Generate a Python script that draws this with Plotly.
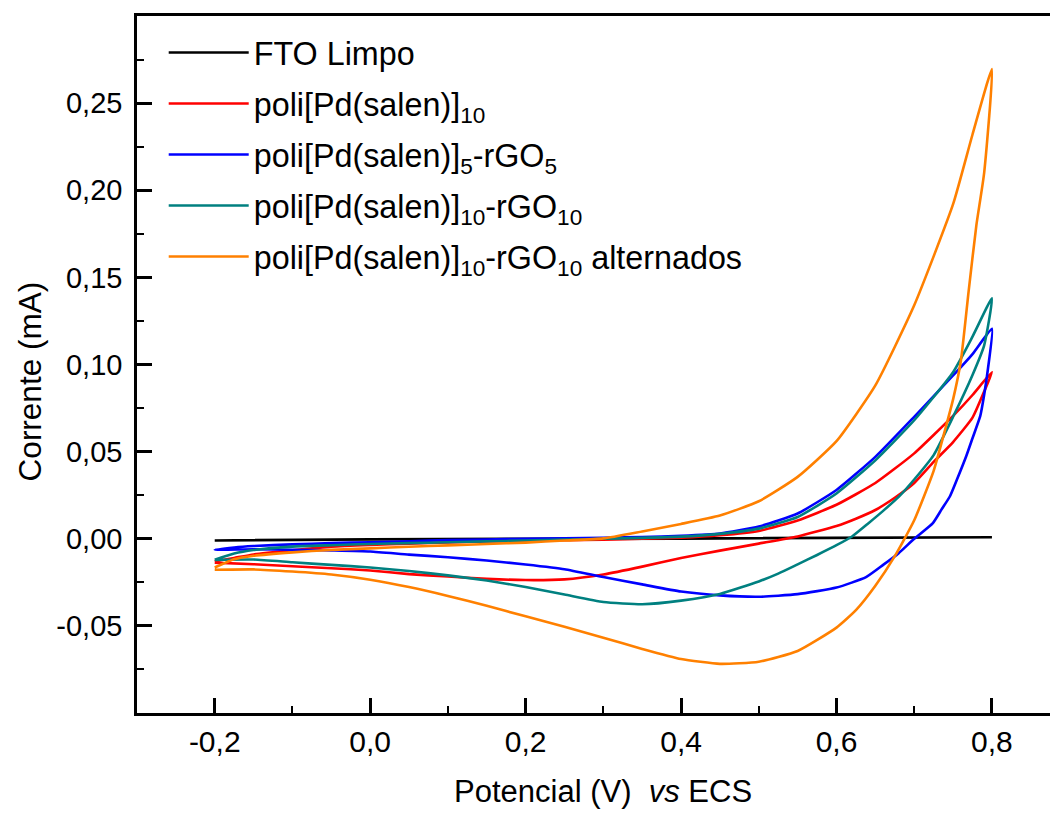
import plotly.graph_objects as go

# ---------------- data ----------------
# FTO Limpo (forward then reverse)
fto_v = [-0.2, 0.0, 0.4, 0.8, 0.4, 0.0, -0.2]
fto_i = [-0.0010, -0.0003, 0.0002, 0.0009, 0.0001, -0.0004, -0.0010]

# poli[Pd(salen)]10
red_v = [-0.2, -0.175, -0.15, -0.1, -0.05, 0.0, 0.05, 0.1, 0.15, 0.2, 0.25, 0.3, 0.35, 0.4, 0.45, 0.5, 0.55, 0.6, 0.65, 0.7, 0.75, 0.775, 0.8,
         0.79, 0.775, 0.75, 0.725, 0.7, 0.675, 0.65, 0.625, 0.6, 0.55, 0.5, 0.45, 0.4, 0.35, 0.3, 0.25, 0.2, 0.15, 0.1, 0.05, 0.0,
         -0.05, -0.1, -0.15, -0.2]
red_i = [-0.013, -0.011, -0.009, -0.0066, -0.0045, -0.0035, -0.0028, -0.0021, -0.0016, -0.0012, -0.0008, -0.0005, 0.0, 0.0006, 0.002, 0.0045, 0.0105, 0.0195, 0.032, 0.049, 0.0705, 0.0825, 0.0956,
         0.0845, 0.0695, 0.0555, 0.0441, 0.032, 0.0235, 0.0165, 0.0115, 0.0073, 0.0013, -0.0028, -0.0068, -0.011, -0.016, -0.0205, -0.0233, -0.0237, -0.0230, -0.0217, -0.0203, -0.0182,
         -0.0169, -0.0158, -0.0146, -0.0137]

# poli[Pd(salen)]5-rGO5
blue_v = [-0.2, -0.175, -0.15, -0.1, -0.05, 0.0, 0.05, 0.1, 0.15, 0.2, 0.25, 0.3, 0.35, 0.4, 0.45, 0.5, 0.55, 0.6, 0.65, 0.7, 0.75, 0.775, 0.8,
          0.795, 0.79, 0.785, 0.775, 0.767, 0.755, 0.746, 0.735, 0.724, 0.70, 0.68, 0.66, 0.638, 0.6, 0.55, 0.5, 0.45, 0.4, 0.35, 0.3,
          0.25, 0.2, 0.15, 0.1, 0.05, 0.0, -0.05, -0.1, -0.15, -0.2]
blue_i = [-0.0063, -0.005, -0.0042, -0.0032, -0.0025, -0.002, -0.0014, -0.0008, -0.0004, 0.0, 0.0003, 0.0006, 0.001, 0.0017, 0.003, 0.007, 0.0145, 0.028, 0.047, 0.070, 0.0937, 0.106, 0.1205,
          0.098, 0.0826, 0.0705, 0.0577, 0.0475, 0.034, 0.0244, 0.0167, 0.009, 0.0, -0.0083, -0.015, -0.022, -0.028, -0.0318, -0.0333, -0.0325, -0.0303, -0.0262, -0.022,
          -0.0175, -0.0148, -0.0125, -0.0106, -0.0091, -0.0073, -0.0067, -0.0063, -0.006, -0.0063]

# poli[Pd(salen)]10-rGO10
teal_v = [-0.2, -0.175, -0.15, -0.1, -0.05, 0.0, 0.05, 0.1, 0.15, 0.2, 0.25, 0.3, 0.35, 0.4, 0.45, 0.5, 0.55, 0.6, 0.65, 0.7, 0.75, 0.775, 0.8,
          0.79, 0.775, 0.75, 0.725, 0.7, 0.68, 0.66, 0.64, 0.62, 0.6, 0.575, 0.55, 0.525, 0.5, 0.45, 0.4, 0.35, 0.3, 0.25, 0.2,
          0.15, 0.1, 0.05, 0.0, -0.05, -0.1, -0.15, -0.2]
teal_i = [-0.012, -0.0085, -0.0065, -0.0045, -0.0037, -0.003, -0.0025, -0.002, -0.0015, -0.001, -0.0005, 0.0, 0.0005, 0.0012, 0.0028, 0.0058, 0.0125, 0.026, 0.045, 0.068, 0.0956, 0.116, 0.138,
          0.111, 0.094, 0.070, 0.048, 0.034, 0.024, 0.016, 0.0085, 0.0013, -0.0037, -0.0093, -0.0147, -0.020, -0.0245, -0.0317, -0.0355, -0.0376, -0.0363, -0.032, -0.0277,
          -0.024, -0.021, -0.0185, -0.0165, -0.015, -0.0135, -0.0119, -0.0121]

# poli[Pd(salen)]10-rGO10 alternados
orange_v = [-0.2, -0.175, -0.15, -0.1, -0.05, 0.0, 0.05, 0.1, 0.15, 0.2, 0.25, 0.3, 0.35, 0.4, 0.45, 0.5, 0.55, 0.6, 0.65, 0.7, 0.75, 0.775, 0.8,
            0.79, 0.78, 0.77, 0.76, 0.75, 0.74, 0.725, 0.7, 0.675, 0.65, 0.625, 0.6, 0.55, 0.5, 0.45, 0.4, 0.35, 0.3, 0.25, 0.2,
            0.15, 0.1, 0.05, 0.0, -0.05, -0.1, -0.15, -0.2]
orange_i = [-0.0165, -0.0118, -0.0098, -0.0078, -0.0064, -0.0055, -0.0046, -0.0038, -0.003, -0.0022, -0.001, 0.0002, 0.0042, 0.0085, 0.0133, 0.0215, 0.0355, 0.056, 0.088, 0.134, 0.192, 0.232, 0.2695,
            0.21, 0.18, 0.142, 0.102, 0.080, 0.063, 0.039, 0.0106, -0.010, -0.027, -0.041, -0.051, -0.0644, -0.0706, -0.0718, -0.069, -0.0632, -0.0568, -0.0505, -0.0445,
            -0.0385, -0.0328, -0.0277, -0.0235, -0.0205, -0.0188, -0.0176, -0.0178]

names = ["FTO Limpo",
         "poli[Pd(salen)]<sub>10</sub>",
         "poli[Pd(salen)]<sub>5</sub>-rGO<sub>5</sub>",
         "poli[Pd(salen)]<sub>10</sub>-rGO<sub>10</sub>",
         "poli[Pd(salen)]<sub>10</sub>-rGO<sub>10</sub> alternados"]
colors = ["#000000", "#FF0000", "#0000FF", "#008080", "#FF8000"]
xs = [fto_v, red_v, blue_v, teal_v, orange_v]
ys = [fto_i, red_i, blue_i, teal_i, orange_i]

x_ticks = [-0.2, 0.0, 0.2, 0.4, 0.6, 0.8]
x_ticktext = ["-0,2", "0,0", "0,2", "0,4", "0,6", "0,8"]
x_minor = [-0.1, 0.1, 0.3, 0.5, 0.7]
y_ticks = [-0.05, 0.0, 0.05, 0.10, 0.15, 0.20, 0.25]
y_ticktext = ["-0,05", "0,00", "0,05", "0,10", "0,15", "0,20", "0,25"]
y_minor = [-0.075, -0.025, 0.025, 0.075, 0.125, 0.175, 0.225, 0.275]

x_title = "Potencial (V)  <i>vs</i> ECS"
y_title = "Corrente (mA)"

FONT = "Arial, Liberation Sans, sans-serif"

fig = go.Figure()
for k, (name, v, i, c) in enumerate(zip(names, xs, ys, colors)):
    fig.add_trace(go.Scatter(x=v, y=i, mode="lines", name=name, legendgroup=f"g{k}",
                             line=dict(color=c, width=2.6, shape="spline", smoothing=0.5)))

# the page body adds an 8px offset, so margins compensate for it
fig.update_layout(
    width=1050, height=813,
    margin=dict(l=129, r=0, t=8, b=108),
    paper_bgcolor="white", plot_bgcolor="white",
    font=dict(family=FONT, size=30, color="black"),
    showlegend=True,
    legend=dict(x=0.029, y=0.987, xanchor="left", yanchor="top",
                bgcolor="rgba(0,0,0,0)", font=dict(size=32.3), itemwidth=80,
                tracegroupgap=6),
    xaxis=dict(range=[-0.3, 0.885], showline=True, linecolor="black", linewidth=2.5, mirror=True,
               showgrid=False, zeroline=False, ticks="inside", ticklen=15, tickwidth=2.5, tickcolor="black",
               tickvals=x_ticks, ticktext=x_ticktext, tickfont=dict(size=30), automargin=False,
               minor=dict(ticks="inside", ticklen=7, tickwidth=2, tickcolor="black", tickvals=x_minor)),
    yaxis=dict(range=[-0.10, 0.30], showline=True, linecolor="black", linewidth=2.5, mirror=False,
               showgrid=False, zeroline=False, ticks="inside", ticklen=15, tickwidth=2.5, tickcolor="black",
               tickvals=y_ticks, ticktext=y_ticktext, tickfont=dict(size=29), ticklabelstandoff=6,
               automargin=False,
               minor=dict(ticks="inside", ticklen=7, tickwidth=2, tickcolor="black", tickvals=y_minor)),
    annotations=[
        dict(text=x_title, xref="paper", yref="paper", x=0.506, y=-0.113,
             xanchor="center", yanchor="middle", showarrow=False, font=dict(size=31)),
        dict(text=y_title, xref="paper", yref="paper", x=-0.116, y=0.476, textangle=-90,
             xanchor="center", yanchor="middle", showarrow=False, font=dict(size=31.5)),
    ],
)

fig.write_html("out.html")
